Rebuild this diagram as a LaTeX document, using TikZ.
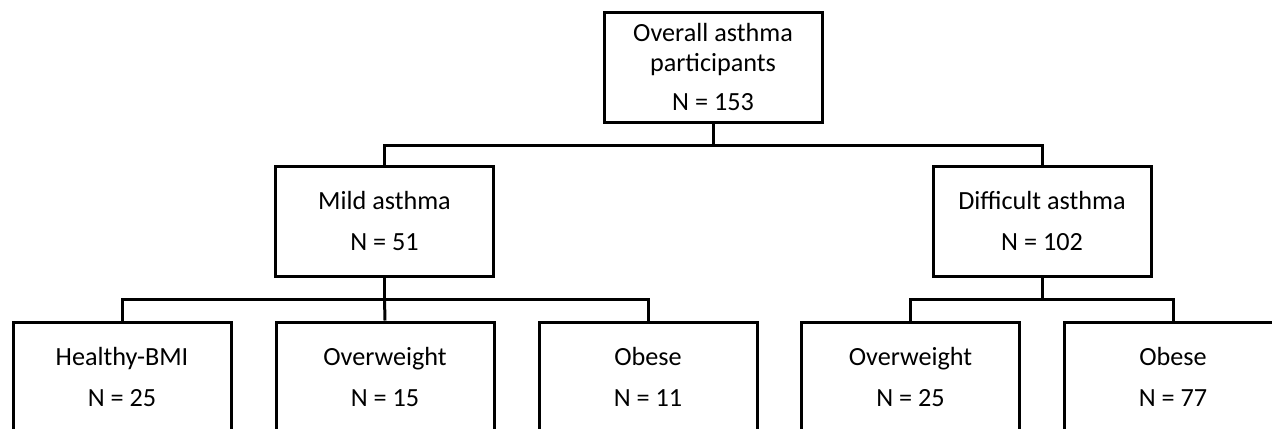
\documentclass[tikz,border=0pt]{standalone}
\usepackage{fontspec}
\setmainfont{Carlito}
\begin{document}
\begin{tikzpicture}[x=0.5pt,y=-0.5pt,
  box/.style={draw=black, line width=1.5pt, rectangle, minimum width=109pt, minimum height=55pt,
    inner sep=0pt, align=center, font=\fontsize{13.1}{14.8}\selectfont},
  conn/.style={draw=black, line width=1.5pt}]
\useasboundingbox (0,0) rectangle (1272,428);
\clip (0,0) rectangle (1272,428);
\node[box] (top) at (713,67) {Overall asthma\\participants\\[4.5pt]N = 153};
\node[box] (mild) at (384.5,221) {Mild asthma\\[6pt]N = 51};
\node[box] (diff) at (1042,221) {Difficult asthma\\[6pt]N = 102};
\node[box] (hb) at (122,377) {Healthy-BMI\\[6pt]N = 25};
\node[box] (ow1) at (385,377) {Overweight\\[6pt]N = 15};
\node[box] (ob1) at (648,377) {Obese\\[6pt]N = 11};
\node[box] (ow2) at (910.5,377) {Overweight\\[6pt]N = 25};
\node[box] (ob2) at (1173,377) {Obese\\[6pt]N = 77};
\draw[conn] (top.south) -- ++(0,-11pt) coordinate (tj) -| (mild.north);
\draw[conn] (tj) -| (diff.north);
\draw[conn] (mild.south) -- ++(0,-11pt) coordinate (mj) -| (hb.north);
\draw[conn] (mj) -| (ob1.north);
\draw[conn] (mj) -- (ow1.north);
\draw[conn] (diff.south) -- ++(0,-11pt) coordinate (dj) -| (ow2.north);
\draw[conn] (dj) -| (ob2.north);
\end{tikzpicture}
\end{document}
